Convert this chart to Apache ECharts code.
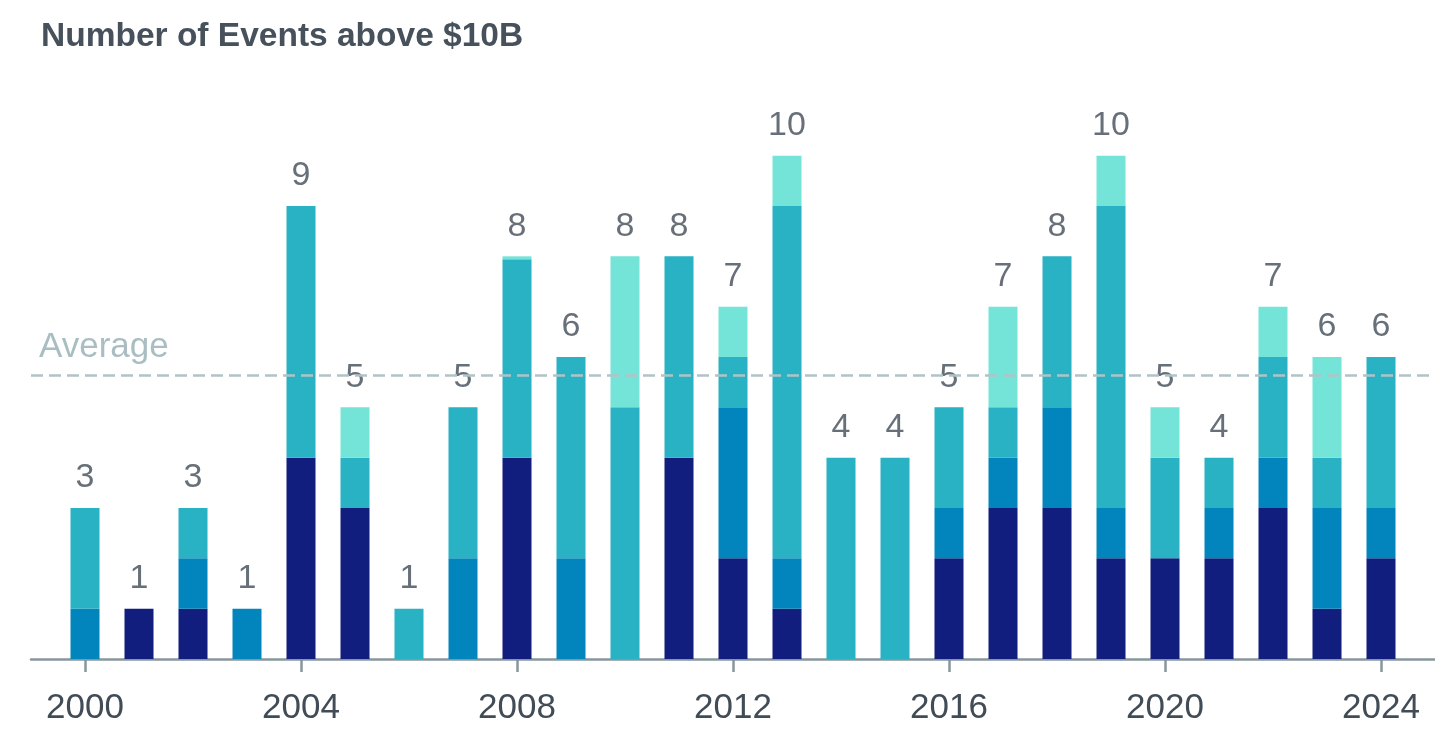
<!DOCTYPE html>
<html><head><meta charset="utf-8">
<script src="https://cdn.jsdelivr.net/npm/echarts@6/dist/echarts.min.js"></script>
<style>html,body{margin:0;padding:0;background:#fff}#c{width:1435px;height:731px}</style>
</head><body><div id="c"></div>
<script>
const years = [2000,2001,2002,2003,2004,2005,2006,2007,2008,2009,2010,2011,2012,2013,2014,2015,2016,2017,2018,2019,2020,2021,2022,2023,2024];
const navy  = [0,1,1,0,4,3,0,0,4,0,0,4,2,1,0,0,2,3,3,2,2,2,3,1,2];
const blue  = [1,0,1,1,0,0,0,2,0,2,0,0,3,1,0,0,1,1,2,1,0,1,1,2,1];
const teal  = [2,0,1,0,5,1,1,3,3.94,4,5,4,1,7,4,4,2,1,3,6,2,1,2,1,3];
const light = [0,0,0,0,0,1,0,0,0.06,0,3,0,1,1,0,0,0,2,0,1,1,0,1,2,0];
const averageValue = 5.64;
const xLabelYears = [2000,2004,2008,2012,2016,2020,2024];

const cats = ['1999'].concat(years.map(String)).concat(['2025']);
const pad = arr => [null].concat(arr).concat([null]);
const totals = years.map((y,i)=>navy[i]+blue[i]+teal[i]+light[i]);
const showYear = (idx, val) => xLabelYears.indexOf(Number(val)) >= 0;
const FONT = 'Liberation Sans, Arial, sans-serif';

const mk = (name, data, color) => ({
  name, type:'bar', stack:'a', data: pad(data).map(v => v===0 ? null : v),
  barWidth: 29, itemStyle:{color}, silent:true
});

const chart = echarts.init(document.getElementById('c'));
chart.setOption({
  animation:false,
  title:{text:'Number of Events above $10B', left:36, top:15,
    textStyle:{fontFamily:FONT, fontSize:33.5, fontWeight:'bold', color:'#46515c'}},
  grid:{left:31, right:-3, top:55, bottom:72},
  xAxis:{type:'category', data:cats, boundaryGap:false,
    axisLine:{lineStyle:{color:'#88979d', width:2.5}},
    axisTick:{interval:showYear, length:13, lineStyle:{color:'#88979d', width:2.5}},
    axisLabel:{interval:showYear, margin:32, fontFamily:FONT, fontSize:35, color:'#414c57'},
    splitLine:{show:false}},
  yAxis:{type:'value', min:0, max:12, show:false, splitLine:{show:false}},
  series:[
    mk('navy', navy, '#111e7e'),
    mk('blue', blue, '#0284bd'),
    mk('teal', teal, '#29b1c4'),
    Object.assign(mk('light', light, '#74e3d8'), {
      markLine:{silent:true, symbol:'none',
        lineStyle:{color:'#b1c3c6', type:[12,6], width:2.5},
        label:{show:true, position:'insideStartTop', formatter:'Average', distance:[8,10],
          fontFamily:FONT, fontSize:35, color:'#a9bec2'},
        data:[{yAxis:averageValue}]}
    }),
    {type:'scatter', data:pad(totals), symbolSize:0, silent:true,
      label:{show:true, position:'top', distance:13, formatter:p=>Math.round(p.value),
        fontFamily:FONT, fontSize:34, color:'#414c57'}}
  ]
});
</script></body></html>
